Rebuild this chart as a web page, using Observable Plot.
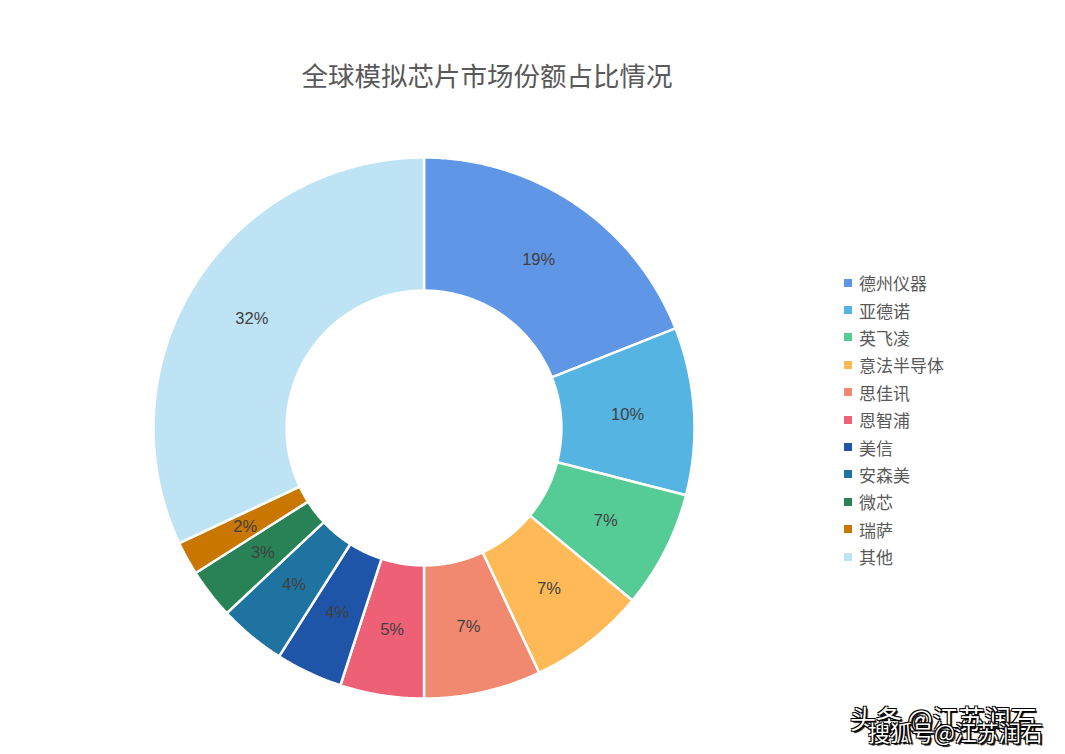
<!DOCTYPE html>
<html>
<head>
<meta charset="utf-8">
<script src="https://cdn.jsdelivr.net/npm/d3@7"></script>
<script src="https://cdn.jsdelivr.net/npm/@observablehq/plot@0.6"></script>
<style>
  html, body { margin: 0; padding: 0; background: #fff; }
  body { width: 1065px; height: 754px; position: relative; overflow: hidden;
         font-family: "Noto Sans CJK SC", "Noto Sans", sans-serif; }
  #chart { position: absolute; left: 0; top: 0; }
  #title { position: absolute; left: 0; width: 974px; top: 56px; text-align: center;
           font-size: 26.5px; color: #595959; line-height: 38px; }
  #legend { position: absolute; left: 844px; top: 269px; }
  .item { height: 27.4px; display: flex; align-items: center; font-size: 17px; color: #595959; }
  .sw { width: 8px; height: 8px; margin-right: 7px; }
  .wm { position: absolute; color: #fff; white-space: nowrap;
        text-shadow: -1px -1px 0 #000, 1px -1px 0 #000, -1px 1px 0 #000, 1px 1px 0 #000, 2px 2px 1px #000; }
</style>
</head>
<body>
<div id="chart"></div>
<div id="title">全球模拟芯片市场份额占比情况</div>
<div id="legend"></div>
<div class="wm" style="left:850px; top:699px; font-size:26px;">头条 @江苏润石</div>
<div class="wm" style="left:868px; top:715px; font-size:22px;">搜狐号@江苏润石</div>
<script>
const names = ["德州仪器", "亚德诺", "英飞凌", "意法半导体", "思佳讯", "恩智浦", "美信", "安森美", "微芯", "瑞萨", "其他"];
const shares = [19, 10, 7, 7, 7, 5, 4, 4, 3, 2, 32];
const colors = ["#6096E6", "#56B4E3", "#55CC96", "#FFB957", "#F0896F", "#EE6076", "#1F55A8", "#1F73A1", "#298255", "#C97700", "#BDE3F5"];

const innerRatio = 0.508;
const total = d3.sum(shares);

// build slice polygons (unit radius coordinates, clockwise from top)
const polys = [];
const labels = [];
let acc = 0;
names.forEach((name, i) => {
  const a0 = acc / total * 2 * Math.PI;
  acc += shares[i];
  const a1 = acc / total * 2 * Math.PI;
  const n = Math.max(2, Math.ceil((a1 - a0) / (Math.PI / 360)));
  const pts = [];
  for (let k = 0; k <= n; k++) {
    const a = a0 + (a1 - a0) * k / n;
    pts.push({name, x: Math.sin(a), y: -Math.cos(a)});
  }
  for (let k = n; k >= 0; k--) {
    const a = a0 + (a1 - a0) * k / n;
    pts.push({name, x: innerRatio * Math.sin(a), y: -innerRatio * Math.cos(a)});
  }
  pts.push({...pts[0]});
  polys.push(...pts);
  const am = (a0 + a1) / 2, rm = (1 + innerRatio) / 2;
  labels.push({name, x: rm * Math.sin(am), y: -rm * Math.cos(am), text: shares[i] + "%"});
});

const cx = 423.5, cy = 427.5, R = 270.5;
const chart = Plot.plot({
  width: 1065,
  height: 754,
  margin: 0,
  x: {domain: [-1, 1], range: [cx - R, cx + R], axis: null},
  y: {domain: [-1, 1], range: [cy - R, cy + R], axis: null},
  color: {domain: names, range: colors},
  style: {background: "transparent", fontFamily: "'Liberation Sans', Arial, sans-serif"},
  marks: [
    Plot.line(polys, {x: "x", y: "y", z: "name", fill: "name", stroke: "#fff", strokeWidth: 2.5, curve: "linear", strokeLinejoin: "miter"}),
    Plot.text(labels, {x: "x", y: "y", text: "text", fill: "#404040", fontSize: 16.5})
  ]
});
document.getElementById("chart").appendChild(chart);

const legend = document.getElementById("legend");
names.forEach((n, i) => {
  const it = document.createElement("div");
  it.className = "item";
  it.innerHTML = `<span class="sw" style="background:${colors[i]}"></span><span>${n}</span>`;
  legend.appendChild(it);
});
</script>
</body>
</html>
